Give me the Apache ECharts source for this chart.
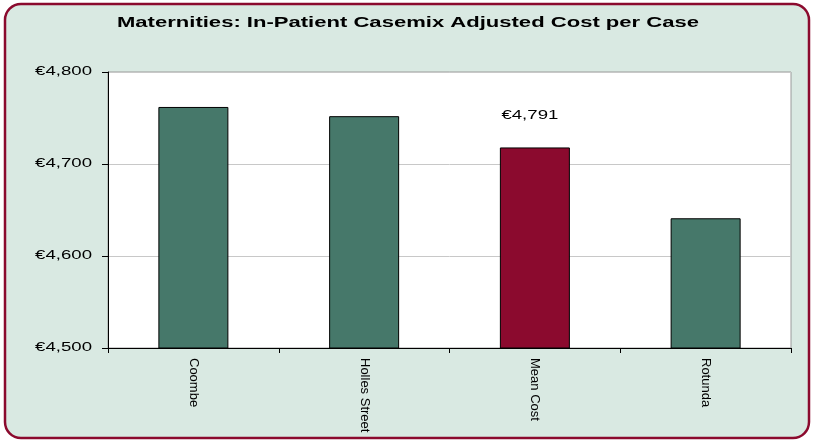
<!DOCTYPE html>
<html>
<head>
<meta charset="utf-8">
<script src="https://cdn.jsdelivr.net/npm/echarts@6/dist/echarts.min.js"></script>
<style>
  html, body { margin: 0; padding: 0; background: #ffffff; }
  #chart { width: 815px; height: 441px; }
</style>
</head>
<body>
<div id="chart"></div>
<script>
// Hospital names along the category axis
const categories = ['Coombe', 'Holles Street', 'Mean Cost', 'Rotunda'];
// Casemix adjusted cost per case (EUR)
const costValues = [4762, 4752, 4718, 4641];
// Bar fill per hospital; the mean is highlighted
const barColors = ['#46786a', '#46786a', '#8b0a2e', '#46786a'];
// Value-axis range, step and tick labels
const yMin = 4500, yMax = 4800, yStep = 100;
const yTickValues = [4500, 4600, 4700, 4800];
const yTickLabels = ['€4,500', '€4,600', '€4,700', '€4,800'];
// Free-standing annotation above the mean bar
const noteText = '€4,791';
const noteValue = 4753;

const FONT = 'Liberation Sans, Arial, sans-serif';
const WIDE = 1.55; // horizontal stretch of the wide lettering

const chart = echarts.init(document.getElementById('chart'), null, { renderer: 'canvas' });

const frame = {
  type: 'rect',
  z: -10,
  shape: { x: 5, y: 4, width: 804, height: 434, r: 16 },
  style: { fill: '#d9e9e2', stroke: '#8b0a2e', lineWidth: 2.5 }
};
const titleText = {
  type: 'text',
  x: 408, y: 23,
  scaleX: 1.47,
  style: {
    text: 'Maternities: In-Patient Casemix Adjusted Cost per Case',
    fontFamily: FONT, fontSize: 15, fontWeight: 'bold', fill: '#000000',
    align: 'center', verticalAlign: 'middle'
  }
};

chart.setOption({
  animation: false,
  backgroundColor: '#ffffff',
  textStyle: { fontFamily: FONT },
  graphic: [frame, titleText],
  grid: {
    left: 108, right: 24, top: 72, bottom: 93,
    show: true, backgroundColor: '#ffffff', borderColor: '#9a9a9a', borderWidth: 1
  },
  xAxis: {
    type: 'category',
    data: categories,
    axisLine: { lineStyle: { color: '#000000', width: 1 } },
    axisTick: { show: true, length: 5, lineStyle: { color: '#000000' } },
    axisLabel: { rotate: -90, color: '#000000', fontSize: 13, margin: 10 }
  },
  yAxis: {
    type: 'value',
    min: yMin, max: yMax, interval: yStep,
    axisLine: { show: true, lineStyle: { color: '#000000', width: 1 } },
    axisTick: { show: true, length: 6, lineStyle: { color: '#000000' } },
    splitLine: { show: true, lineStyle: { color: '#c8c8c8', width: 1 } },
    axisLabel: { show: false }
  },
  series: [{
    type: 'bar',
    barWidth: 70,
    data: costValues.map((v, i) => ({
      value: v,
      itemStyle: { color: barColors[i], borderColor: '#000000', borderWidth: 1 }
    }))
  }]
});

// Tick labels and the annotation, placed through the axis scales
const labelEls = yTickValues.map((v, i) => ({
  type: 'text',
  x: 92,
  y: chart.convertToPixel({ yAxisIndex: 0 }, v),
  scaleX: WIDE,
  style: {
    text: yTickLabels[i], fontFamily: FONT, fontSize: 12, fill: '#000000',
    align: 'right', verticalAlign: 'middle'
  }
}));
const notePos = chart.convertToPixel({ xAxisIndex: 0, yAxisIndex: 0 }, [categories[2], noteValue]);
labelEls.push({
  type: 'text',
  x: notePos[0] - 5,
  y: notePos[1],
  scaleX: WIDE,
  style: {
    text: noteText, fontFamily: FONT, fontSize: 12, fill: '#000000',
    align: 'center', verticalAlign: 'middle'
  }
});

chart.setOption({ graphic: [frame, titleText].concat(labelEls) }, { replaceMerge: ['graphic'] });
</script>
</body>
</html>
